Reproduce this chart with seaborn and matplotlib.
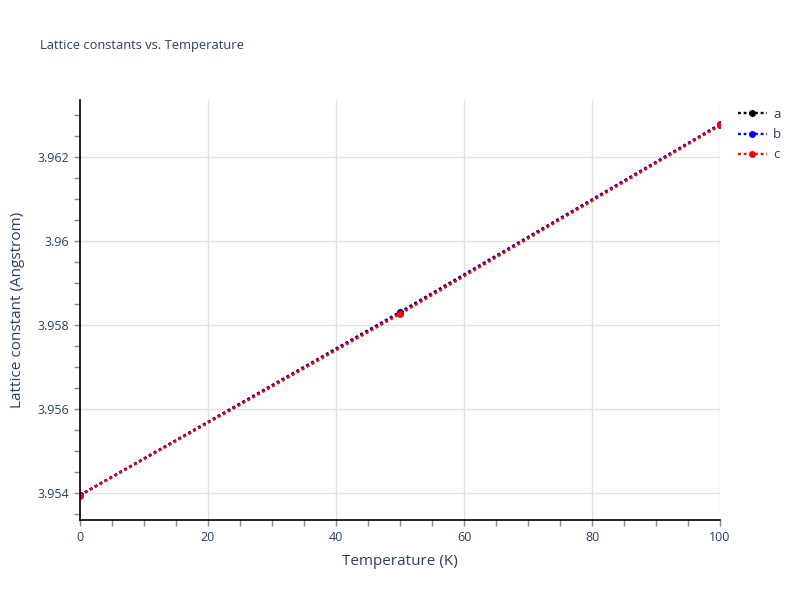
import matplotlib
matplotlib.use("Agg")
import matplotlib.pyplot as plt
from matplotlib.ticker import MultipleLocator, FuncFormatter
import seaborn as sns
import pandas as pd

temperature = [0, 50, 100]
series_names = ["a", "b", "c"]
a_values = [3.95395, 3.95831, 3.96277]
b_values = [3.95395, 3.95829, 3.96278]
c_values = [3.95394, 3.95826, 3.96275]
colors = ["#000000", "#0000ff", "#ff0000"]

title = "Lattice constants vs. Temperature"
xlabel = "Temperature (K)"
ylabel = "Lattice constant (Angstrom)"

sns.set_theme(style="white")
plt.rcParams['font.family'] = ['Open Sans', 'DejaVu Sans']
txt = "#2a3f5f"

fig = plt.figure(figsize=(8, 6), dpi=100)
ax = fig.add_axes([0.1, 1 - 520 / 600, 0.8, 420 / 600])

for name, vals, col in zip(series_names, [a_values, b_values, c_values], colors):
    df = pd.DataFrame({"T": temperature, "L": vals})
    sns.lineplot(data=df, x="T", y="L", ax=ax, color=col, marker="o",
                 markersize=5, markeredgewidth=0, linewidth=1.7,
                 linestyle=(0, (1.2, 1.2)), label=name, clip_on=True)

ax.set_xlim(0, 100)
ax.set_ylim(3.953357, 3.963357)
ax.xaxis.set_major_locator(MultipleLocator(20))
ax.xaxis.set_minor_locator(MultipleLocator(5))
ax.yaxis.set_major_locator(MultipleLocator(0.002))
ax.yaxis.set_minor_locator(MultipleLocator(0.0005))

def yfmt(v, pos):
    s = f"{v:.3f}".rstrip("0").rstrip(".")
    return s
ax.yaxis.set_major_formatter(FuncFormatter(yfmt))

ax.grid(True, which="major", color="#e2e2e2", linewidth=1)
ax.set_axisbelow(True)
for s in ["top", "right"]:
    ax.spines[s].set_visible(False)
for s in ["left", "bottom"]:
    ax.spines[s].set_color("black")
    ax.spines[s].set_linewidth(1.2)

ax.tick_params(which="both", direction="out", length=4, width=1, color="#888888",
               labelsize=9, labelcolor=txt, left=True, bottom=True)
ax.tick_params(which="major", pad=4)

ax.set_xlabel(xlabel, fontsize=11, color=txt, labelpad=7)
ax.set_ylabel(ylabel, fontsize=11, color=txt, labelpad=9)
fig.text(40 / 800, 1 - 46 / 600, title, fontsize=9.3, color=txt, va="center", ha="left")

leg = ax.legend(loc="upper left", bbox_to_anchor=(1.015, 1.0), frameon=False,
                fontsize=9.5, handlelength=2.2, handletextpad=0.5,
                labelspacing=0.55, borderaxespad=0.2)
for t in leg.get_texts():
    t.set_color(txt)

fig.savefig("out.png", dpi=100, facecolor="white")
